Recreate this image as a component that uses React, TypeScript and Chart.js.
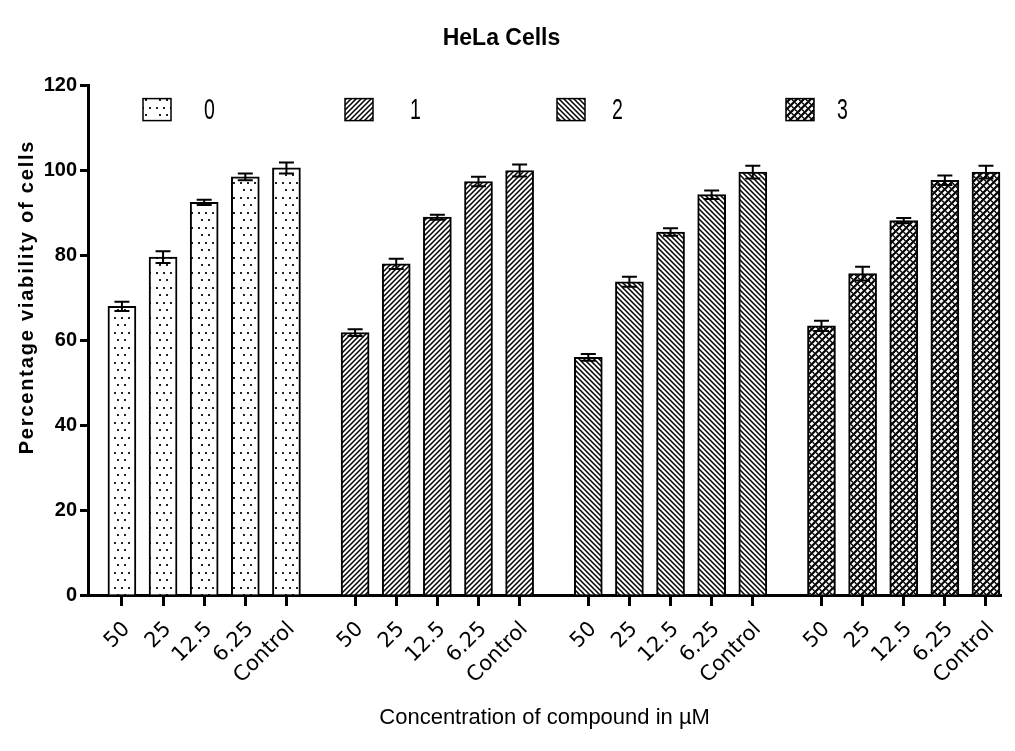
import React, { useEffect, useRef } from 'react';
import { Chart, registerables } from 'chart.js';

Chart.register(...registerables);

const TITLE = 'HeLa Cells';
const Y_TITLE = 'Percentage viability of cells';
const X_TITLE = 'Concentration of compound in µM';
const CONC_LABELS = ['50', '25', '12.5', '6.25', 'Control'];
const SERIES_NAMES = ['0', '1', '2', '3'];

const VALUES_0 = [68.0, 79.6, 92.5, 98.5, 100.6];
const ERR_0 = [1.1, 1.4, 0.6, 0.8, 1.3];
const VALUES_1 = [61.8, 78.0, 89.0, 97.4, 100.0];
const ERR_1 = [0.8, 1.2, 0.6, 1.1, 1.4];
const VALUES_2 = [56.0, 73.8, 85.5, 94.3, 99.6];
const ERR_2 = [0.8, 1.2, 0.9, 1.0, 1.5];
const VALUES_3 = [63.4, 75.7, 88.2, 97.7, 99.6];
const ERR_3 = [1.2, 1.6, 0.6, 1.1, 1.5];

const Y_MIN = 0;
const Y_MAX = 120;
const Y_STEP = 20;

const SERIES = [VALUES_0, VALUES_1, VALUES_2, VALUES_3];
const ERRORS = [ERR_0, ERR_1, ERR_2, ERR_3];

const GROUP_STRIDE = 5.67;
const X_MIN = -0.825;
const X_MAX = 21.38;
const xPos = (g: number, i: number) => g * GROUP_STRIDE + i;
const TICK_POSITIONS: number[] = [];
SERIES.forEach((vals, g) => vals.forEach((_, i) => TICK_POSITIONS.push(xPos(g, i))));

const SANS = '"Liberation Sans", Arial, sans-serif';
const WIDE = '"DejaVu Sans", Verdana, sans-serif';

function makePattern(kind: number): CanvasPattern | string {
  const c = document.createElement('canvas');
  const ctx = c.getContext('2d');
  if (!ctx) return '#fff';
  if (kind === 0) {
    c.width = 21; c.height = 15;
    ctx.fillStyle = '#fff';
    ctx.fillRect(0, 0, 21, 15);
    ctx.fillStyle = '#222';
    const dots = [[2, 2], [9, 2], [16, 2], [5, 9], [12, 9], [19, 9]];
    dots.forEach(([x, y], k) => { if (k !== 3) ctx.fillRect(x, y, 2, 2); });
  } else if (kind === 1 || kind === 2) {
    const s = 5;
    c.width = s; c.height = s;
    ctx.fillStyle = '#fff';
    ctx.fillRect(0, 0, s, s);
    ctx.strokeStyle = '#000';
    ctx.lineWidth = 1.5;
    ctx.beginPath();
    if (kind === 1) {
      ctx.moveTo(-1, s + 1); ctx.lineTo(s + 1, -1);
      ctx.moveTo(-2, 2); ctx.lineTo(2, -2);
      ctx.moveTo(s - 2, s + 2); ctx.lineTo(s + 2, s - 2);
    } else {
      ctx.moveTo(-1, -1); ctx.lineTo(s + 1, s + 1);
      ctx.moveTo(-2, s - 2); ctx.lineTo(2, s + 2);
      ctx.moveTo(s - 2, -2); ctx.lineTo(s + 2, 2);
    }
    ctx.stroke();
  } else {
    const s = 7;
    c.width = s; c.height = s;
    ctx.fillStyle = '#fff';
    ctx.fillRect(0, 0, s, s);
    ctx.strokeStyle = '#000';
    ctx.lineWidth = 2.2;
    ctx.beginPath();
    ctx.moveTo(-1, s + 1); ctx.lineTo(s + 1, -1);
    ctx.moveTo(-3, 3); ctx.lineTo(3, -3);
    ctx.moveTo(s - 3, s + 3); ctx.lineTo(s + 3, s - 3);
    ctx.stroke();
    ctx.lineWidth = 1.4;
    ctx.beginPath();
    ctx.moveTo(0.5, 1); ctx.lineTo(2.5, 3);
    ctx.moveTo(4, 4.5); ctx.lineTo(6, 6.5);
    ctx.stroke();
  }
  const p = ctx.createPattern(c, 'repeat');
  return p || '#fff';
}

export default function App() {
  const ref = useRef<HTMLCanvasElement | null>(null);

  useEffect(() => {
    if (!ref.current) return;
    const patterns = [0, 1, 2, 3].map((k) => makePattern(k));

    const errorBarPlugin = {
      id: 'errorBars',
      afterDatasetsDraw(chart: any) {
        const { ctx } = chart;
        const y = chart.scales.y;
        ctx.save();
        ctx.strokeStyle = '#000';
        ctx.lineWidth = 2;
        chart.data.datasets.forEach((ds: any, di: number) => {
          const meta = chart.getDatasetMeta(di);
          meta.data.forEach((el: any, j: number) => {
            const v = ds.data[j].y;
            const e = ERRORS[di][j];
            const yT = y.getPixelForValue(v + e);
            const yB = y.getPixelForValue(v - e);
            const x = el.x;
            const hw = 7.5;
            ctx.beginPath();
            ctx.moveTo(x, yT); ctx.lineTo(x, yB);
            ctx.moveTo(x - hw, yT); ctx.lineTo(x + hw, yT);
            ctx.moveTo(x - hw, yB); ctx.lineTo(x + hw, yB);
            ctx.stroke();
          });
        });
        ctx.restore();
      },
    };

    const legendPlugin = {
      id: 'customLegend',
      afterDraw(chart: any) {
        const { ctx, chartArea } = chart;
        const boxOffsets = [55, 257, 469, 698];
        const textOffsets = [61, 65, 55, 51];
        const yCenter = chartArea.top + 24;
        ctx.save();
        SERIES_NAMES.forEach((name, i) => {
          const bx = chartArea.left + boxOffsets[i];
          ctx.fillStyle = patterns[i];
          ctx.fillRect(bx, yCenter - 11, 28, 22);
          ctx.strokeStyle = '#000';
          ctx.lineWidth = 1.5;
          ctx.strokeRect(bx, yCenter - 11, 28, 22);
          ctx.save();
          ctx.translate(bx + textOffsets[i], yCenter + 1);
          ctx.scale(0.65, 1);
          ctx.fillStyle = '#000';
          ctx.font = `30px ${SANS}`;
          ctx.textAlign = 'left';
          ctx.textBaseline = 'middle';
          ctx.fillText(name, 0, 0);
          ctx.restore();
        });
        // y axis title
        ctx.translate(27, 297);
        ctx.rotate(-Math.PI / 2);
        ctx.font = `bold 20px ${SANS}`;
        (ctx as any).letterSpacing = '1.8px';
        ctx.fillStyle = '#000';
        ctx.textAlign = 'center';
        ctx.textBaseline = 'middle';
        ctx.fillText(Y_TITLE, 0, 0);
        ctx.restore();
      },
    };

    const chart = new Chart(ref.current, {
      type: 'bar',
      data: {
        datasets: SERIES.map((vals, g) => ({
          label: SERIES_NAMES[g],
          data: vals.map((v, i) => ({ x: xPos(g, i), y: v })),
          backgroundColor: patterns[g] as any,
          borderColor: '#000',
          borderWidth: 2,
          barThickness: 28,
          grouped: false,
        })),
      },
      options: {
        animation: false,
        responsive: false,
        devicePixelRatio: 1,
        layout: { padding: { left: 0, right: 12, top: 0, bottom: 0 } },
        plugins: {
          legend: { display: false },
          tooltip: { enabled: false },
          title: {
            display: true,
            text: TITLE,
            color: '#000',
            font: { family: SANS, size: 23, weight: 'bold' },
            padding: { top: 25, bottom: 33 },
          },
        },
        scales: {
          x: {
            type: 'linear',
            min: X_MIN,
            max: X_MAX,
            offset: false,
            afterBuildTicks: (axis: any) => {
              axis.ticks = TICK_POSITIONS.map((v) => ({ value: v }));
            },
            afterFit: (axis: any) => { axis.height = 156; },
            ticks: {
              autoSkip: false,
              maxRotation: 45,
              minRotation: 45,
              padding: 11,
              labelOffset: 5,
              color: '#000',
              font: { family: WIDE, size: 21 },
              callback: (_v: any, i: number) => CONC_LABELS[i % CONC_LABELS.length],
            },
            grid: { offset: false, drawOnChartArea: false, drawTicks: true, tickLength: 11, tickWidth: 3, tickColor: '#000' },
            border: { display: true, color: '#000', width: 3 },
            title: {
              display: true,
              text: X_TITLE,
              color: '#000',
              font: { family: SANS, size: 22 },
              padding: { top: 0, bottom: 20 },
            },
          },
          y: {
            min: Y_MIN,
            max: Y_MAX,
            afterFit: (axis: any) => { axis.width = 88; },
            ticks: {
              stepSize: Y_STEP,
              padding: 3,
              color: '#000',
              font: { family: SANS, size: 20, weight: 'bold' },
            },
            grid: { drawOnChartArea: false, drawTicks: true, tickLength: 8, tickWidth: 3, tickColor: '#000' },
            border: { display: true, color: '#000', width: 3 },
          },
        },
      } as any,
      plugins: [errorBarPlugin, legendPlugin],
    });
    return () => chart.destroy();
  }, []);

  return (
    <div style={{ position: 'absolute', left: 0, top: 0, width: 1015, height: 751, background: '#fff' }}>
      <canvas ref={ref} width={1015} height={751} style={{ display: 'block' }} />
    </div>
  );
}
